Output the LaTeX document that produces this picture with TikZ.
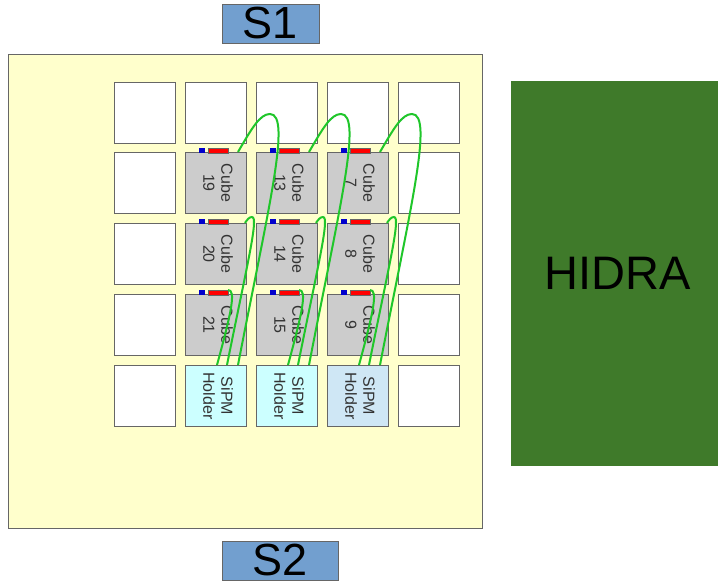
\documentclass[tikz,border=0pt]{standalone}
\usepackage{fontspec}
\setmainfont{Liberation Sans}
\usetikzlibrary{positioning}

\definecolor{panelyellow}{HTML}{FFFFCC}
\definecolor{sidesblue}{HTML}{729FCF}
\definecolor{hidragreen}{HTML}{3F7A2A}
\definecolor{cubegray}{HTML}{CCCCCC}
\definecolor{holdercyan}{HTML}{CCFFFF}
\definecolor{holderblue}{HTML}{CFE7F5}
\definecolor{wiregreen}{HTML}{1FC62A}
\definecolor{edgegray}{HTML}{666666}

\newcommand{\turned}[1]{\rotatebox{-90}{\begin{tabular}{@{}c@{}}#1\end{tabular}}}

\tikzset{
    cell/.style={draw=edgegray, line width=1pt, fill=white, minimum size=61pt, inner sep=0pt, outer sep=0.5pt},
    cube/.style={cell, fill=cubegray, text=black!80, font=\fontsize{16}{18}\selectfont},
    holder/.style={cube, fill=holdercyan},
    sidebox/.style={draw=edgegray, line width=0.6pt, fill=sidesblue, inner sep=0pt, font=\fontsize{45}{50}\selectfont},
    redpad/.style={draw=edgegray, line width=0.3pt, fill=red, minimum width=20pt, minimum height=5pt, inner sep=0pt, outer sep=0pt},
    bluepad/.style={draw=none, fill=blue!80!black, minimum width=6pt, minimum height=5pt, inner sep=0pt, outer sep=0pt},
    wire/.style={draw=wiregreen, line width=2pt}
}

\begin{document}
\begin{tikzpicture}[x=1pt, y=1pt, node distance=9pt and 9pt]
\useasboundingbox (0,0) rectangle (718,-583);

% Panel and side labels
\node (panel) [draw=edgegray, line width=0.7pt, fill=panelyellow, minimum width=474pt, minimum height=474pt, inner sep=0pt] at (245,-291) {};
\node (S1) [sidebox, minimum width=97pt, minimum height=39pt] at (270.5,-23.5) {S1};
\node (S2) [sidebox, minimum width=116pt, minimum height=39pt] at (280,-560.5) {S2};
\node (hidra) [draw=none, fill=hidragreen, minimum width=207pt, minimum height=385pt, inner sep=0pt, font=\fontsize{47}{50}\selectfont] at (614.5,-273.5) {\hspace{6pt}HIDRA};

% Top row
\node (a1) [cell] at (145,-113) {};
\node (b1) [cell, right=of a1] {};
\node (c1) [cell, right=of b1] {};
\node (d1) [cell, right=of c1] {};
\node (e1) [cell, right=of d1] {};

% Left and right columns
\node (a2) [cell, below=8pt of a1] {};
\node (a3) [cell, below=of a2] {};
\node (a4) [cell, below=of a3] {};
\node (a5) [cell, below=of a4] {};
\node (e2) [cell, below=8pt of e1] {};
\node (e3) [cell, below=of e2] {};
\node (e4) [cell, below=of e3] {};
\node (e5) [cell, below=of e4] {};

% Cubes
\node (cube19) [cube, right=of a2] {\turned{Cube\\19}};
\node (cube20) [cube, right=of a3] {\turned{Cube\\20}};
\node (cube21) [cube, right=of a4] {\turned{Cube\\21}};
\node (cube13) [cube, right=of cube19] {\turned{Cube\\13}};
\node (cube14) [cube, right=of cube20] {\turned{Cube\\14}};
\node (cube15) [cube, right=of cube21] {\turned{Cube\\15}};
\node (cube7) [cube, right=of cube13] {\turned{Cube\\7}};
\node (cube8) [cube, right=of cube14] {\turned{Cube\\8}};
\node (cube9) [cube, right=of cube15] {\turned{Cube\\9}};

% Holders
\node (holderA) [holder, right=of a5] {\turned{SiPM\\Holder}};
\node (holderB) [holder, right=of holderA] {\turned{SiPM\\Holder}};
\node (holderC) [holder, fill=holderblue, right=of holderB] {\turned{SiPM\\Holder}};

% Pads on top of each cube
\foreach \n in {19,20,21,13,14,15,7,8,9} {
    \node (red\n) [redpad, anchor=south west, xshift=23pt, yshift=-1pt] at (cube\n.north west) {};
    \node (blue\n) [bluepad, left=3pt of red\n] {};
}

% Fibres
\foreach \t/\m/\l/\h in {19/20/21/A, 13/14/15/B, 7/8/9/C} {
    \coordinate (peak\t) at ([shift={(23,38)}]cube\t.north east);
    \coordinate (peak\m) at ([shift={(5,6)}]cube\m.north east);
    \draw[wire] ([xshift=-9pt]cube\t.north east) .. controls +(14,24) and +(-10,0) .. (peak\t)
        .. controls +(22,0) and +(30,155) .. ([xshift=-9pt]holder\h.north east);
    \draw[wire] ([xshift=-2pt]cube\m.north east) .. controls +(2,3) and +(-3,0) .. (peak\m)
        .. controls +(7,0) and +(20,100) .. ([xshift=-20pt]holder\h.north east);
    \draw[wire] (red\l.north east) .. controls +(8,0) and +(15,55) .. ([xshift=-30pt]holder\h.north east);
}

\end{tikzpicture}
\end{document}
